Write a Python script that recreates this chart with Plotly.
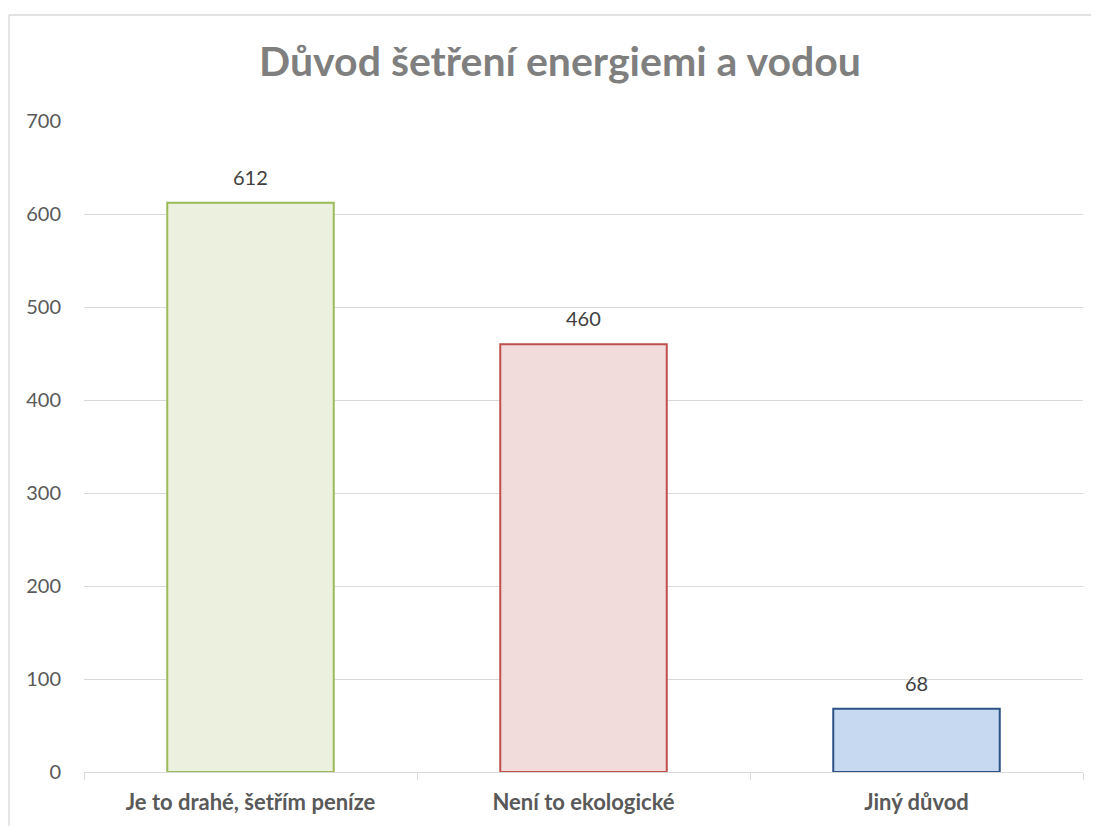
import plotly.graph_objects as go

categories = ["Je to drahé, šetřím peníze", "Není to ekologické", "Jiný důvod"]
values = [612, 460, 68]
fill_colors = ["#EBF1DE", "#F2DCDB", "#C6D9F1"]
line_colors = ["#9BBB59", "#C0504D", "#2C5286"]
y_ticks = [0, 100, 200, 300, 400, 500, 600, 700]

# page body has an 8px margin, so the figure is drawn from (8, 8)
W, H = 1091, 818
L, R, T, B = 76, 16, 113, 54
pw = W - L - R
ph = H - T - B

fig = go.Figure()
fig.add_trace(go.Bar(
    x=categories, y=values,
    marker=dict(color=fill_colors, line=dict(color=line_colors, width=2)),
    width=0.5, hoverinfo="x+y",
))

for c, v in zip(categories, values):
    fig.add_annotation(x=c, y=v, text=str(v), showarrow=False, yanchor="bottom",
                       yshift=12, font=dict(family="Lato", size=20, color="#404040"))

fig.update_layout(
    width=W, height=H,
    margin=dict(l=L, r=R, t=T, b=B),
    paper_bgcolor="white", plot_bgcolor="white",
    showlegend=False,
    title=dict(text="<b>Důvod šetření energiemi a vodou</b>",
               font=dict(family="Lato", size=41, color="#7F7F7F"),
               x=552 / W, xanchor="center", y=1 - 54 / H, yanchor="middle"),
)
fig.update_yaxes(range=[0, 700], tickvals=y_ticks, showgrid=True, gridcolor="#D9D9D9",
                 gridwidth=1.3, zeroline=False, showline=False, ticks="",
                 tickfont=dict(family="Lato", size=20, color="#595959"), ticklabelstandoff=22)
fig.update_xaxes(showline=True, linecolor="#D9D9D9", linewidth=1.3, ticks="outside",
                 tickson="boundaries", ticklen=7, tickcolor="#D9D9D9", tickwidth=1.3,
                 tickfont=dict(family="Lato", size=22, color="#595959"),
                 ticklabelstandoff=10,
                 tickvals=categories, ticktext=["<b>%s</b>" % c for c in categories])

# chart frame: only the left and top edges are inside the page
fx0 = (1 - L) / pw
fx1 = (W + 60 - L) / pw
fy0 = (H - B - (H + 60)) / ph
fy1 = (H - B - 7) / ph
frame = dict(color="#D9D9D9", width=1.3)
fig.add_shape(type="line", xref="paper", yref="paper", x0=fx0, x1=fx0, y0=fy0, y1=fy1,
              line=frame, layer="below")
fig.add_shape(type="line", xref="paper", yref="paper", x0=fx0, x1=fx1, y0=fy1, y1=fy1,
              line=frame, layer="below")

fig.write_html("out.html",
               post_script="document.documentElement.style.overflow='hidden';"
                           "document.body.style.overflow='hidden';")
